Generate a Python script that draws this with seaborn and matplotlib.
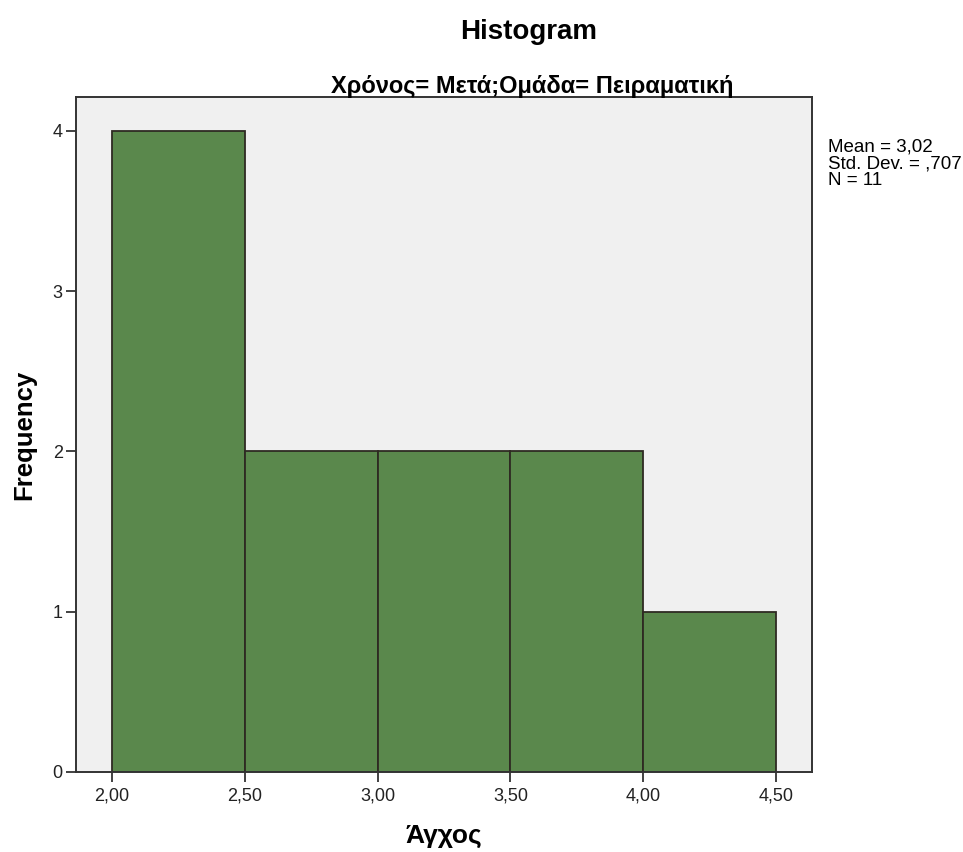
import matplotlib
matplotlib.use("Agg")
import matplotlib.pyplot as plt
import seaborn as sns
import pandas as pd
import numpy as np

# Data
bin_edges = [2.0, 2.5, 3.0, 3.5, 4.0, 4.5]
bin_counts = [4, 2, 2, 2, 1]
x_ticks = [2.0, 2.5, 3.0, 3.5, 4.0, 4.5]
x_tick_labels = ["2,00", "2,50", "3,00", "3,50", "4,00", "4,50"]
y_ticks = [0, 1, 2, 3, 4]
stats_text = "Mean = 3,02\nStd. Dev. = ,707\nN = 11"
title = "Histogram"
subtitle = "Χρόνος= Μετά;Ομάδα= Πειραματική"
xlabel = "Άγχος"
ylabel = "Frequency"

sns.set_theme(style="white")
plt.rcParams['font.family'] = ['Liberation Sans', 'DejaVu Sans']
plt.rcParams['text.color'] = 'black'
plt.rcParams['axes.labelcolor'] = 'black'

centers = [(a + b) / 2 for a, b in zip(bin_edges[:-1], bin_edges[1:])]
df = pd.DataFrame({"value": centers, "count": bin_counts})

fig = plt.figure(figsize=(9.63, 8.52), dpi=100)
ax = fig.add_axes([0.0789, 0.0939, 0.7643, 0.7923])
ax.set_facecolor("#f0f0f0")

sns.histplot(data=df, x="value", weights="count", bins=bin_edges, ax=ax,
             color="#5a884c", alpha=1.0, edgecolor="#2e2a22", linewidth=1.3)

ax.set_xlim(1.8645, 4.6355)
ax.set_ylim(0, 4.212)
ax.set_xticks(x_ticks)
ax.set_xticklabels(x_tick_labels)
ax.set_yticks(y_ticks)
ax.tick_params(axis="both", direction="out", length=7.5, width=1.3, color="#333333",
               labelsize=13, labelcolor="#222222", bottom=True, left=True)
ax.tick_params(axis="x", pad=4)
ax.tick_params(axis="y", pad=2)
for s in ax.spines.values():
    s.set_color("#333333")
    s.set_linewidth(1.4)

ax.set_xlabel(xlabel, fontsize=19, fontweight="bold", labelpad=14)
ax.set_ylabel(ylabel, fontsize=18.5, fontweight="bold", labelpad=12)

fig.text(0.5493, 0.963, title, ha="center", va="center", fontsize=20, fontweight="bold")
fig.text(0.5524, 0.899, subtitle, ha="center", va="center", fontsize=17, fontweight="bold")
fig.text(0.860, 0.838, stats_text, ha="left", va="top", fontsize=13.5, linespacing=1.0)

fig.savefig("out.png", dpi=100)
